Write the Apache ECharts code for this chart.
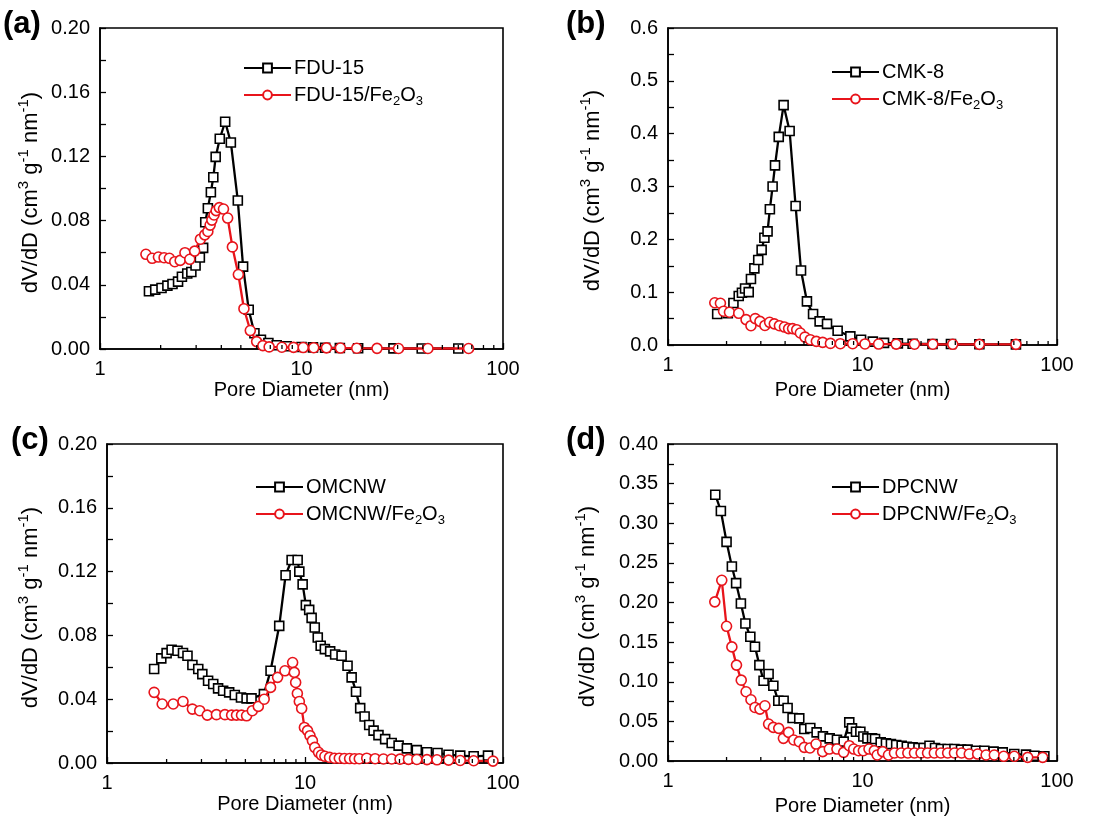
<!DOCTYPE html>
<html>
<head>
<meta charset="utf-8">
<script src="https://cdn.jsdelivr.net/npm/echarts@6/dist/echarts.min.js"></script>
<style>html,body{margin:0;padding:0;background:#fff;}#c{width:1114px;height:826px;}</style>
</head>
<body>
<div id="c"></div>
<script>
// ---------- data ----------
const xTickLabels = [1, 10, 100];
const logMinorTicks = [2, 3, 4, 5, 6, 7, 8, 9, 20, 30, 40, 50, 60, 70, 80, 90];

// (a) FDU-15
const aFduX = [1.75,1.88,2.02,2.16,2.29,2.44,2.55,2.71,2.84,2.98,3.13,3.25,3.33,3.43,3.55,3.65,3.75,3.93,4.18,4.46,4.83,5.13,5.47,5.84,6.29,6.85,7.53,8.44,10.0,11.4,13.1,15.5,19.1,28.6,39.5,60];
const aFduY = [0.036,0.037,0.038,0.0395,0.0405,0.042,0.045,0.047,0.048,0.052,0.057,0.063,0.079,0.0877,0.0977,0.107,0.1197,0.131,0.1416,0.1287,0.0925,0.0513,0.0245,0.0098,0.0058,0.0037,0.0023,0.0017,0.0012,0.001,0.0008,0.0006,0.0005,0.0004,0.0003,0.0003];
const aFeX = [1.69,1.815,1.95,2.08,2.21,2.35,2.50,2.64,2.79,2.95,3.15,3.31,3.43,3.52,3.59,3.68,3.77,3.91,4.10,4.30,4.54,4.86,5.18,5.57,5.99,6.43,6.91,7.99,9.13,10.2,11.5,13.3,15.6,18.8,23.7,30.3,42.4,67.5];
const aFeY = [0.059,0.0565,0.0573,0.0569,0.0565,0.0544,0.0552,0.060,0.0559,0.061,0.0684,0.0711,0.0732,0.0772,0.0803,0.0835,0.0862,0.0881,0.0872,0.0816,0.0636,0.0464,0.0251,0.0115,0.0046,0.0021,0.0013,0.0011,0.001,0.0009,0.0008,0.0007,0.0006,0.0005,0.0004,0.0003,0.0003,0.0003];

// (b) CMK-8
const bCmkX = [1.79,2.03,2.17,2.31,2.40,2.49,2.60,2.67,2.78,2.91,3.03,3.13,3.25,3.34,3.45,3.55,3.71,3.93,4.22,4.53,4.83,5.18,5.57,6.02,6.57,7.45,8.66,9.83,11.3,12.9,15.2,18.1,22.9,28.5,39.9,61.5];
const bCmkY = [0.0586,0.06,0.0794,0.0927,0.099,0.107,0.100,0.125,0.145,0.161,0.18,0.203,0.215,0.257,0.300,0.340,0.394,0.454,0.405,0.263,0.141,0.0825,0.0586,0.0447,0.040,0.027,0.0164,0.010,0.0063,0.004,0.003,0.0025,0.002,0.0018,0.0015,0.0012];
const bFeX = [1.74,1.86,1.93,2.07,2.31,2.52,2.67,2.81,2.97,3.15,3.33,3.52,3.74,3.97,4.17,4.37,4.59,4.79,5.06,5.39,5.79,6.24,6.84,7.69,8.9,10.3,12.1,14.9,18.5,23.0,29.1,39.9,61.5];
const bFeY = [0.080,0.079,0.064,0.062,0.060,0.048,0.0365,0.05,0.0447,0.037,0.043,0.040,0.0365,0.034,0.031,0.031,0.029,0.0227,0.015,0.010,0.0069,0.005,0.003,0.0025,0.0025,0.002,0.0018,0.0016,0.0015,0.0014,0.0013,0.0012,0.0012];

// (c) OMCNW
const cOmX = [1.73,1.88,2.00,2.12,2.27,2.42,2.55,2.70,2.89,3.03,3.24,3.44,3.64,3.86,4.14,4.42,4.75,5.07,5.37,6.2,6.70,7.41,7.98,8.56,9.18,9.36,9.73,10.1,10.5,10.8,11.2,11.6,12.0,12.6,13.4,14.2,15.3,16.4,17.2,18.1,19.0,20.0,21.1,22.2,23.5,25.4,27.4,29.7,32.7,36.7,41.3,46.7,53.1,60.8,71.1,84.0];
const cOmY = [0.0589,0.0656,0.0689,0.071,0.0704,0.069,0.0672,0.0614,0.0589,0.0557,0.0516,0.0495,0.0468,0.0453,0.0443,0.0426,0.0411,0.0405,0.0405,0.0432,0.0578,0.086,0.1177,0.1273,0.1273,0.120,0.112,0.099,0.096,0.091,0.085,0.0787,0.0735,0.0714,0.070,0.068,0.0672,0.061,0.0537,0.0447,0.0344,0.0292,0.0238,0.0203,0.0175,0.015,0.0125,0.0109,0.0092,0.0081,0.0067,0.0063,0.0052,0.0046,0.0042,0.0046];
const cFeX = [1.73,1.90,2.16,2.42,2.70,2.94,3.21,3.57,3.94,4.26,4.51,4.78,5.07,5.42,5.81,6.22,6.70,7.27,7.92,8.66,8.83,8.97,9.15,9.36,9.62,9.93,10.3,10.6,10.9,11.2,11.7,12.1,12.6,13.3,14.1,14.9,15.8,16.8,17.8,18.8,20.5,22.6,24.9,27.4,30.2,33.3,36.7,41.3,46.4,53.1,60.8,71.1,89];
const cFeY = [0.0443,0.037,0.037,0.0386,0.0338,0.0328,0.030,0.0303,0.0303,0.030,0.030,0.030,0.0296,0.0328,0.0355,0.040,0.0474,0.0537,0.0578,0.063,0.0568,0.0505,0.0436,0.0386,0.0342,0.0223,0.0203,0.0171,0.014,0.0098,0.0067,0.005,0.0042,0.0035,0.003,0.003,0.0028,0.0028,0.0027,0.0027,0.003,0.0027,0.0025,0.0025,0.0024,0.0023,0.0022,0.0021,0.002,0.0018,0.0016,0.0014,0.0012];

// (d) DPCNW
const dDpX = [1.75,1.87,2.00,2.13,2.24,2.37,2.50,2.65,2.80,2.95,3.10,3.29,3.48,3.69,3.93,4.12,4.37,4.73,5.02,5.39,5.81,6.26,6.78,7.39,8.00,8.55,8.83,9.26,9.75,10.1,10.6,11.2,11.6,12.4,13.2,14.0,14.9,15.9,16.9,18.1,19.4,20.6,22.1,23.6,25.3,27.4,29.7,32.1,34.7,38.3,42.3,47.2,52.6,60.3,69.3,76.5,86.1];
const dDpY = [0.336,0.3155,0.2765,0.2454,0.2244,0.1987,0.1735,0.1567,0.1441,0.121,0.1013,0.1097,0.095,0.076,0.076,0.0668,0.0542,0.0538,0.0403,0.0416,0.0361,0.0311,0.0286,0.0269,0.0244,0.0487,0.0412,0.037,0.037,0.031,0.0286,0.0286,0.0277,0.0235,0.0223,0.0214,0.0202,0.0193,0.018,0.0172,0.0164,0.0164,0.0193,0.0164,0.0151,0.0151,0.0151,0.0143,0.0143,0.013,0.013,0.0118,0.0109,0.0088,0.008,0.0067,0.0059];
const dFeX = [1.74,1.89,2.00,2.13,2.25,2.38,2.52,2.67,2.80,2.97,3.15,3.29,3.48,3.71,3.92,4.17,4.43,4.73,5.02,5.37,5.77,6.24,6.75,7.39,8.00,8.55,9.01,9.55,10.1,10.8,11.5,11.9,12.7,13.6,14.6,15.8,17.1,18.5,20.0,21.6,23.4,25.3,27.4,29.7,32.3,35.4,39.1,43.2,47.6,53.2,60.3,70.7,84.4];
const dFeY = [0.2008,0.228,0.170,0.144,0.121,0.102,0.0874,0.0773,0.0676,0.0655,0.0697,0.0466,0.0424,0.0412,0.0286,0.0361,0.0265,0.0244,0.0172,0.0164,0.0214,0.0118,0.0151,0.0151,0.0109,0.0193,0.0151,0.013,0.013,0.0151,0.013,0.0076,0.0118,0.0076,0.0101,0.0101,0.0101,0.0101,0.0101,0.0101,0.0101,0.0101,0.0101,0.0101,0.0101,0.0088,0.0088,0.0076,0.0076,0.0059,0.0059,0.0046,0.0046];

const panelLabels = ['(a)', '(b)', '(c)', '(d)'];
const seriesNames = [
  ['FDU-15', 'FDU-15/Fe2O3'],
  ['CMK-8', 'CMK-8/Fe2O3'],
  ['OMCNW', 'OMCNW/Fe2O3'],
  ['DPCNW', 'DPCNW/Fe2O3']
];
const yMax = [0.20, 0.6, 0.20, 0.40];
const yInterval = [0.04, 0.1, 0.04, 0.05];
const yDecimals = [2, 1, 2, 2];
const xAxisTitle = 'Pore Diameter (nm)';
const yAxisTitle = 'dV/dD (cm{sup|3} g{sup|-1} nm{sup|-1})';

// ---------- layout ----------
const FONT = '"Liberation Sans", Arial, Helvetica, sans-serif';
const RED = '#e8141b';
const BLACK = '#000000';
const layout = [
  {grid: {left: 100, top: 28, width: 403, height: 321}, xGap: 28, yGap: 54, lab: {left: 3, top: 9}, leg: {left: 243, top: 55}},
  {grid: {left: 668, top: 28, width: 389, height: 317}, xGap: 34, yGap: 60, lab: {left: 566, top: 9}, leg: {left: 831, top: 59}},
  {grid: {left: 107, top: 444, width: 396, height: 319}, xGap: 30, yGap: 61, lab: {left: 11, top: 425}, leg: {left: 255, top: 474}},
  {grid: {left: 668, top: 444, width: 389, height: 317}, xGap: 34, yGap: 65, lab: {left: 566, top: 425}, leg: {left: 831, top: 474}}
];
const seriesData = [
  [[aFduX, aFduY], [aFeX, aFeY]],
  [[bCmkX, bCmkY], [bFeX, bFeY]],
  [[cOmX, cOmY], [cFeX, cFeY]],
  [[dDpX, dDpY], [dFeX, dFeY]]
];
const zip = (xs, ys) => xs.map((x, i) => [x, ys[i]]);

const option = {
  animation: false,
  backgroundColor: '#fff',
  title: [], grid: [], xAxis: [], yAxis: [], legend: [], series: []
};

layout.forEach((L, i) => {
  option.title.push({
    text: panelLabels[i], left: L.lab.left, top: L.lab.top, padding: 0,
    textStyle: {fontFamily: FONT, fontSize: 31, fontWeight: 'bold', color: '#000'}
  });
  option.grid.push(Object.assign({
    show: true, borderColor: '#000', borderWidth: 1.6, backgroundColor: 'transparent',
    containLabel: false, outerBoundsMode: 'none'
  }, L.grid));
  option.xAxis.push({
    type: 'log', logBase: 10, min: 1, max: 100, gridIndex: i,
    name: xAxisTitle, nameLocation: 'middle', nameGap: L.xGap,
    nameTextStyle: {fontFamily: FONT, fontSize: 20, color: '#000', lineHeight: 22},
    axisLine: {show: true, lineStyle: {color: '#000', width: 1.6}},
    axisTick: {show: true, inside: true, length: 6, lineStyle: {color: '#000', width: 1.3}},
    minorTick: {show: false},
    splitLine: {show: false},
    axisLabel: {fontFamily: FONT, fontSize: 20, color: '#000', margin: 10,
      formatter: v => (xTickLabels.indexOf(Math.round(v)) >= 0 ? String(Math.round(v)) : '')}
  });
  option.yAxis.push({
    type: 'value', min: 0, max: yMax[i], interval: yInterval[i], gridIndex: i,
    name: yAxisTitle, nameLocation: 'middle', nameGap: L.yGap, nameRotate: 90,
    nameTextStyle: {fontFamily: FONT, fontSize: 22, color: '#000', lineHeight: 30, padding: [0, 8, 0, 0],
      rich: {sup: {fontFamily: FONT, fontSize: 15, lineHeight: 15, verticalAlign: 'top', color: '#000'}}},
    axisLine: {show: true, lineStyle: {color: '#000', width: 1.6}},
    axisTick: {show: true, inside: true, length: 6, lineStyle: {color: '#000', width: 1.3}},
    minorTick: {show: true, splitNumber: 2, length: 6, lineStyle: {color: '#000', width: 1.3}},
    splitLine: {show: false},
    minorSplitLine: {show: false},
    axisLabel: {fontFamily: FONT, fontSize: 20, color: '#000', margin: 10,
      formatter: v => v.toFixed(yDecimals[i])}
  });
  option.legend.push({
    orient: 'vertical', left: L.leg.left, top: L.leg.top, padding: 0,
    itemGap: 1, itemWidth: 47, itemHeight: 11,
    data: seriesNames[i],
    selectedMode: false,
    formatter: name => name.replace('Fe2O3', 'Fe{sub|2}O{sub|3}'),
    textStyle: {fontFamily: FONT, fontSize: 20, color: '#000', lineHeight: 26, padding: [0, 0, 0, -2],
      rich: {sub: {fontFamily: FONT, fontSize: 13, lineHeight: 13, verticalAlign: 'bottom', color: '#000'}}}
  });
  seriesData[i].forEach((pair, j) => {
    const color = j === 0 ? BLACK : RED;
    option.series.push({
      type: 'line', name: seriesNames[i][j], xAxisIndex: i, yAxisIndex: i,
      data: zip(pair[0], pair[1]),
      symbol: j === 0 ? 'rect' : 'circle',
      symbolSize: j === 0 ? 9 : 10,
      showAllSymbol: true,
      lineStyle: {color: color, width: 2.3},
      itemStyle: {color: '#fff', borderColor: color, borderWidth: 1.6},
      emphasis: {disabled: true},
      z: 3 + j
    });
  });
  option.series.push({
    type: 'custom', name: 'minor-' + i, xAxisIndex: i, yAxisIndex: i, silent: true, clip: false, z: 10,
    data: logMinorTicks.map(v => [v, 0]),
    renderItem: (params, api) => {
      const p = api.coord([api.value(0), api.value(1)]);
      return {type: 'line', shape: {x1: p[0], y1: p[1], x2: p[0], y2: p[1] - 4},
        style: {stroke: '#000', lineWidth: 1.3}};
    }
  });
});

const chart = echarts.init(document.getElementById('c'), null, {renderer: 'canvas', width: 1114, height: 826});
chart.setOption(option);
</script>
</body>
</html>
